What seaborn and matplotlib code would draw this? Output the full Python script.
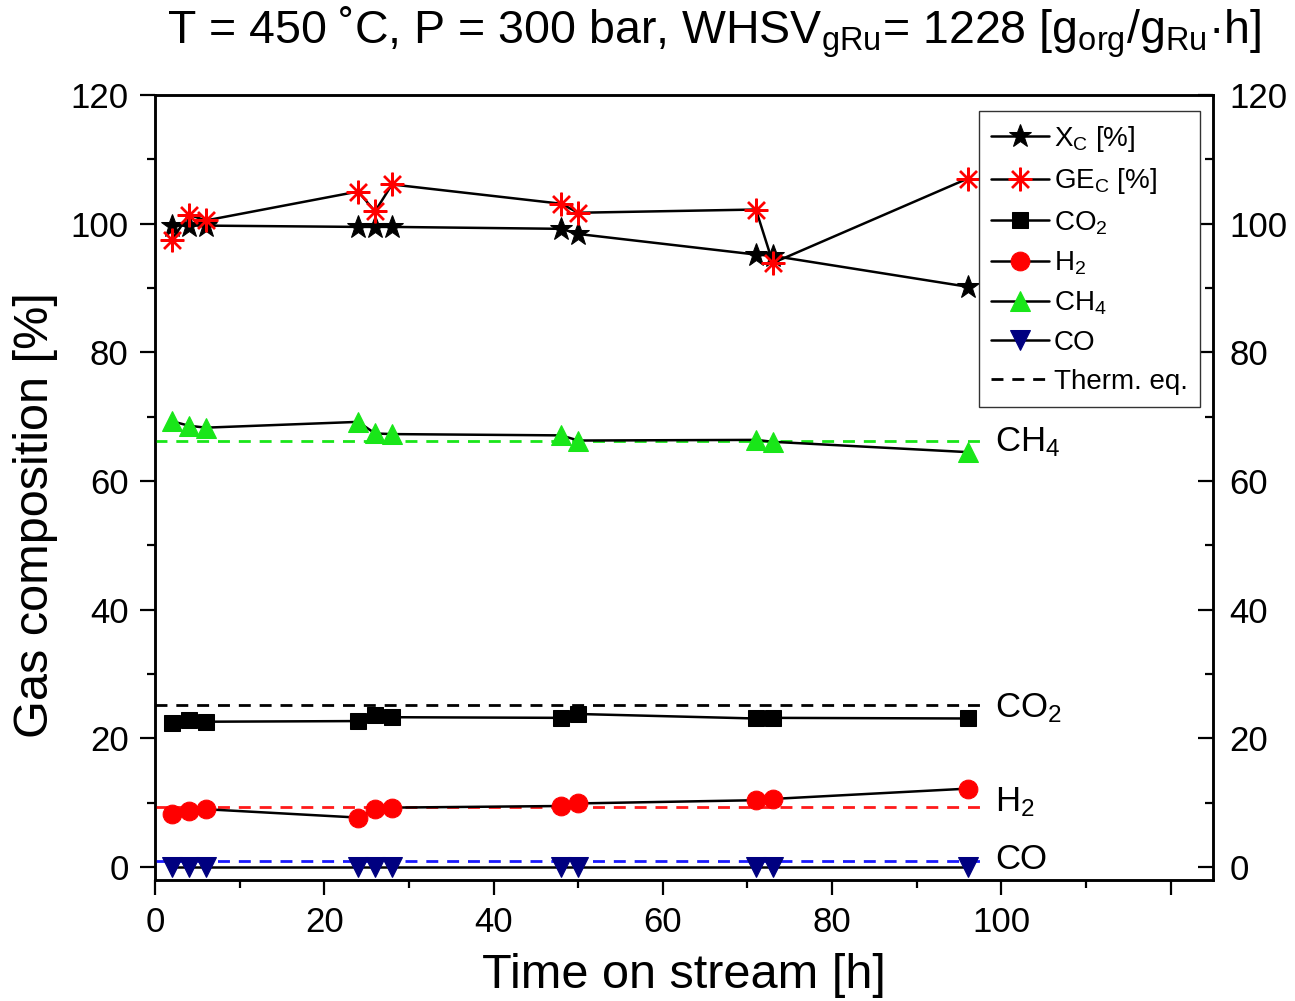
import matplotlib
matplotlib.use("Agg")
import matplotlib.pyplot as plt
from matplotlib.ticker import MultipleLocator
import pandas as pd
import seaborn as sns

# Time on stream [h]
time_h = [2, 4, 6, 24, 26, 28, 48, 50, 71, 73, 96]

# Carbon conversion and carbon gasification efficiency [%]
x_c = [99.7, 99.7, 99.7, 99.5, 99.5, 99.5, 99.2, 98.4, 95.2, 95.0, 90.2]
ge_c = [97.5, 101.4, 100.5, 105.0, 101.9, 106.1, 103.1, 101.7, 102.2, 93.9, 107.0]

# Dry gas composition [%]
co2 = [22.4, 22.8, 22.6, 22.7, 23.6, 23.3, 23.2, 23.8, 23.1, 23.2, 23.1]
h2 = [8.2, 8.7, 9.0, 7.7, 9.0, 9.25, 9.5, 9.9, 10.4, 10.6, 12.2]
ch4 = [69.3, 68.6, 68.3, 69.2, 67.4, 67.3, 67.1, 66.3, 66.4, 66.1, 64.5]
co = [0.0, 0.0, 0.0, 0.0, 0.0, 0.0, 0.0, 0.0, 0.0, 0.0, 0.0]

# Thermodynamic equilibrium composition [%]
eq_species = ["CH$_4$", "CO$_2$", "H$_2$", "CO"]
eq_values = [66.2, 25.2, 9.3, 0.9]
eq_colors = ["#19e619", "black", "#ff1a1a", "#1a1aff"]

df = pd.DataFrame({"time": time_h, "xc": x_c, "ge": ge_c,
                   "co2": co2, "h2": h2, "ch4": ch4, "co": co})

sns.set_style("ticks")
plt.rcParams["font.family"] = ["Liberation Sans", "DejaVu Sans"]
plt.rcParams["mathtext.default"] = "regular"
for key in ["text.color", "axes.labelcolor", "xtick.color", "ytick.color", "axes.edgecolor"]:
    plt.rcParams[key] = "black"

fig = plt.figure(figsize=(12.95, 10.01), dpi=100)
ax = fig.add_axes([155 / 1295, 1 - 880 / 1001, (1213 - 155) / 1295, (880 - 95) / 1001])

DASH = (0, (4.3, 3.2))

# Equilibrium reference lines with their species labels
eq_span = [0, 97.6]
label_y = [64.6, 23.3, 8.7, -0.3]
for name, val, col, ly in zip(eq_species, eq_values, eq_colors, label_y):
    ax.plot(eq_span, [val, val], ls=DASH, color=col, lw=2.0, zorder=2)
    ax.text(99.3, ly, name, fontsize=25, va="baseline", ha="left")

series = [
    ("xc", "X$_C$ [%]", dict(marker="*", markersize=17, markerfacecolor="black",
                             markeredgecolor="black")),
    ("ge", "GE$_C$ [%]", dict(marker=(8, 2, 0), markersize=17, markeredgecolor="red",
                              markerfacecolor="red", markeredgewidth=1.7)),
    ("co2", "CO$_2$", dict(marker="s", markersize=12, markerfacecolor="black",
                           markeredgecolor="black")),
    ("h2", "H$_2$", dict(marker="o", markersize=13.5, markerfacecolor="red",
                         markeredgecolor="red")),
    ("ch4", "CH$_4$", dict(marker="^", markersize=15, markerfacecolor="#19e619",
                           markeredgecolor="#19e619")),
    ("co", "CO", dict(marker="v", markersize=15, markerfacecolor="#000080",
                      markeredgecolor="#000080")),
]

handles, labels = [], []
for col, lab, style in series:
    sns.lineplot(data=df, x="time", y=col, ax=ax, color="black", linewidth=1.8,
                 estimator=None, sort=False, zorder=3, clip_on=False, **style)
    handles.append(ax.lines[-1])
    labels.append(lab)

eq_handle, = ax.plot([], [], ls=DASH, color="black", lw=2.0)
handles.append(eq_handle)
labels.append("Therm. eq.")

leg = ax.legend(handles, labels, loc="upper right",
                bbox_to_anchor=(1200 / 1295, 1 - 111 / 1001),
                bbox_transform=fig.transFigure, borderaxespad=0,
                fancybox=False, edgecolor="#333333", framealpha=1,
                fontsize=20, handlelength=2.1, handletextpad=0.15,
                labelspacing=0.46, borderpad=0.45, numpoints=1, markerscale=1.0)
leg.get_frame().set_linewidth(1.0)

ax.set_xlim(0, 125)
ax.set_ylim(-2, 120)
ax.xaxis.set_minor_locator(MultipleLocator(10))
ax.yaxis.set_major_locator(MultipleLocator(20))
ax.yaxis.set_minor_locator(MultipleLocator(10))
ax.set_xticks([0, 20, 40, 60, 80, 100, 120])
ax.set_xticklabels(["0", "20", "40", "60", "80", "100", ""])

ax.tick_params(which="both", direction="out", width=1.6, labelsize=25,
               left=True, right=False, top=False, bottom=True)
ax.tick_params(which="major", length=11, pad=8)
ax.tick_params(which="minor", length=6)
for sp in ax.spines.values():
    sp.set_linewidth(1.8)

# Mirrored scale on the right-hand side, ticks pointing inwards
ax_r = ax.twinx()
ax_r.set_ylim(ax.get_ylim())
ax_r.yaxis.set_major_locator(MultipleLocator(20))
ax_r.yaxis.set_minor_locator(MultipleLocator(10))
ax_r.tick_params(which="both", direction="in", width=1.6, labelsize=25)
ax_r.tick_params(which="major", length=11, pad=12)
ax_r.tick_params(which="minor", length=6)
for sp in ax_r.spines.values():
    sp.set_linewidth(1.8)
ax_r.set_zorder(ax.get_zorder() - 1)
ax.patch.set_visible(False)

ax.set_xlabel("Time on stream [h]", fontsize=35, labelpad=10)
ax.set_ylabel("Gas composition [%]", fontsize=35)
ax.yaxis.set_label_coords((58 - 155) / 1058, (880 - 515) / 785)

fig.text(714 / 1295, 1 - 32 / 1001,
         "T = 450 ˚C, P = 300 bar, WHSV$_{gRu}$= 1228 [g$_{org}$/g$_{Ru}$·h]",
         fontsize=33.5, ha="center", va="center")

fig.savefig("out.png", dpi=100, facecolor="white")
